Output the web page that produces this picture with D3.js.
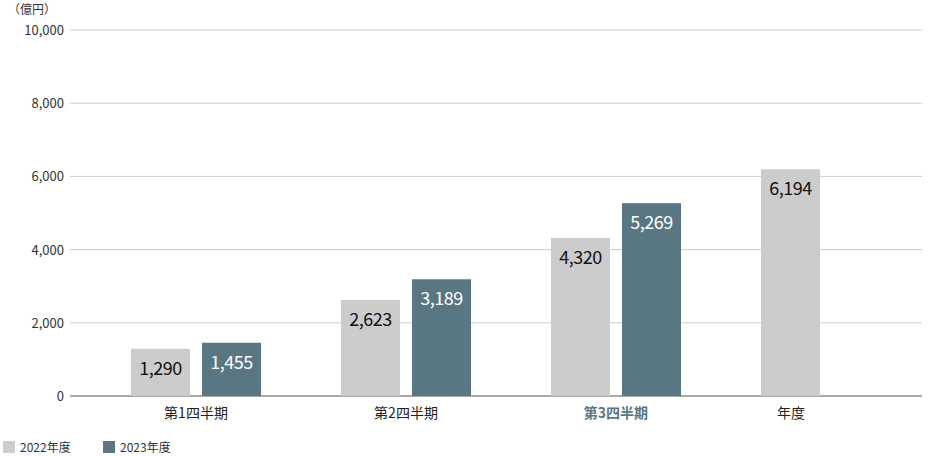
<!DOCTYPE html>
<html><head><meta charset="utf-8">
<script src="https://cdn.jsdelivr.net/npm/d3@7"></script>
<style>body{margin:0;background:#fff;font-family:"Noto Sans CJK JP","Noto Sans",sans-serif}</style>
</head><body><div id="chart"></div>
<script>
const categories = ["第1四半期", "第2四半期", "第3四半期", "年度"];
const series = ["2022年度", "2023年度"];
const values2022 = [1290, 2623, 4320, 6194];
const values2023 = [1455, 3189, 5269, null];
const yTicks = [0, 2000, 4000, 6000, 8000, 10000];
const colors = ["#cccccc", "#587783"];

const width = 936, height = 456;
const svg = d3.select("#chart").append("svg").attr("width", width).attr("height", height);

const y = d3.scaleLinear().domain([0, 10000]).range([396, 30]);
const x = d3.scaleBand().domain(categories).range([91, 931]);
const barW = 59, gap = 12;

svg.append("g").selectAll("line").data(yTicks).enter().append("line")
  .attr("x1", 70).attr("x2", 922)
  .attr("y1", d => y(d)).attr("y2", d => y(d))
  .attr("stroke", d => d === 0 ? "#555" : "#ccc").attr("stroke-width", 1);

svg.append("g").selectAll("text").data(yTicks).enter().append("text")
  .attr("x", 64).attr("y", d => y(d) + 5).attr("text-anchor", "end")
  .attr("font-size", 13).attr("fill", "#333").text(d3.format(","));

svg.append("text").attr("x", 8).attr("y", 14).attr("font-size", 12).attr("fill", "#333").text("（億円）");

const bars = [];
categories.forEach((c, i) => {
  [values2022[i], values2023[i]].forEach((v, s) => {
    if (v == null) return;
    const cx = x(c) + x.bandwidth() / 2;
    bars.push({ c, v, s, x: cx - gap / 2 - barW + s * (barW + gap) });
  });
});

svg.append("g").selectAll("rect").data(bars).enter().append("rect")
  .attr("x", d => d.x).attr("width", barW)
  .attr("y", d => y(d.v)).attr("height", d => y(0) - y(d.v))
  .attr("fill", d => colors[d.s]);

svg.append("g").selectAll("text").data(bars).enter().append("text")
  .attr("x", d => d.x + barW / 2).attr("y", d => y(d.v) + 26)
  .attr("text-anchor", "middle").attr("font-size", 18).attr("letter-spacing", -0.5)
  .attr("fill", d => d.s ? "#fff" : "#111").text(d => d3.format(",")(d.v));

svg.append("g").selectAll("text").data(categories).enter().append("text")
  .attr("x", d => x(d) + x.bandwidth() / 2 - (d === "年度" ? 35 : 0)).attr("y", 418)
  .attr("text-anchor", "middle").attr("font-size", 14)
  .attr("font-weight", (d, i) => i === 2 ? "bold" : "normal")
  .attr("fill", (d, i) => i === 2 ? "#587783" : "#222").text(d => d);

const lg = svg.append("g").selectAll("g").data(series).enter().append("g")
  .attr("transform", (d, i) => `translate(${3 + i * 100},441)`);
lg.append("rect").attr("width", 12).attr("height", 12).attr("fill", (d, i) => colors[i]);
lg.append("text").attr("x", 17).attr("y", 11).attr("font-size", 12).attr("fill", "#333").text(d => d);
</script></body></html>
